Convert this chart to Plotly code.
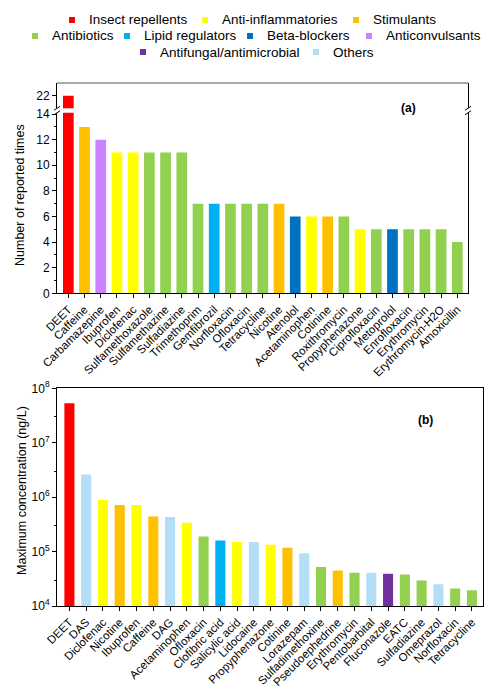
import plotly.graph_objects as go

# panel (a): number of reported times
drugs_a = ['DEET', 'Caffeine', 'Carbamazepine', 'Ibuprofen', 'Diclofenac',
           'Sulfamethoxazole', 'Sulfamethazine', 'Sulfadiazine', 'Trimethoprim',
           'Gemfibrozil', 'Norfloxacin', 'Ofloxacin', 'Tetracycline', 'Nicotine',
           'Atenolol', 'Acetaminophen', 'Cotinine', 'Roxithromycin',
           'Propyphenazone', 'Ciprofloxacin', 'Metoprolol', 'Enrofloxacin',
           'Erythromycin', 'Erythromycin-H2O', 'Amoxicillin']
counts_a = [22, 13, 12, 11, 11, 11, 11, 11, 7, 7, 7, 7, 7, 7,
            6, 6, 6, 6, 5, 5, 5, 5, 5, 5, 4]
classes_a = ['Insect repellents', 'Stimulants', 'Anticonvulsants',
             'Anti-inflammatories', 'Anti-inflammatories', 'Antibiotics',
             'Antibiotics', 'Antibiotics', 'Antibiotics', 'Lipid regulators',
             'Antibiotics', 'Antibiotics', 'Antibiotics', 'Stimulants',
             'Beta-blockers', 'Anti-inflammatories', 'Stimulants', 'Antibiotics',
             'Anti-inflammatories', 'Antibiotics', 'Beta-blockers', 'Antibiotics',
             'Antibiotics', 'Antibiotics', 'Antibiotics']
ticks_a = [0, 2, 4, 6, 8, 10, 12, 14]

# panel (b): maximum concentration (ng/L)
drugs_b = ['DEET', 'DAS', 'Diclofenac', 'Nicotine', 'Ibuprofen', 'Caffeine',
           'DAG', 'Acetaminophen', 'Ofloxacin', 'Clofibric acid',
           'Salicylic acid', 'Lidocaine', 'Propyphenazone', 'Cotinine',
           'Lorazepam', 'Sulfadimethoxine', 'Pseudoephedrine', 'Erythromycin',
           'Pentobarbital', 'Fluconazole', 'EATC', 'Sulfadiazine', 'Omeprazol',
           'Norfloxacin', 'Tetracycline']
conc_b = [5.3e7, 2.6e6, 9.0e5, 7.2e5, 7.2e5, 4.4e5, 4.3e5, 3.4e5, 1.9e5,
          1.6e5, 1.5e5, 1.5e5, 1.33e5, 1.17e5, 9.3e4, 5.2e4, 4.5e4, 4.1e4,
          4.1e4, 3.9e4, 3.8e4, 2.95e4, 2.5e4, 2.1e4, 1.95e4]
classes_b = ['Insect repellents', 'Others', 'Anti-inflammatories', 'Stimulants',
             'Anti-inflammatories', 'Stimulants', 'Others', 'Anti-inflammatories',
             'Antibiotics', 'Lipid regulators', 'Anti-inflammatories', 'Others',
             'Anti-inflammatories', 'Stimulants', 'Others', 'Antibiotics',
             'Stimulants', 'Antibiotics', 'Others', 'Antifungal/antimicrobial',
             'Antibiotics', 'Antibiotics', 'Others', 'Antibiotics', 'Antibiotics']
ticks_b = [1e4, 1e5, 1e6, 1e7, 1e8]
ticklabels_b = ['10<sup>4</sup>', '10<sup>5</sup>', '10<sup>6</sup>',
                '10<sup>7</sup>', '10<sup>8</sup>']

legend_rows = [
    ['Insect repellents', 'Anti-inflammatories', 'Stimulants'],
    ['Antibiotics', 'Lipid regulators', 'Beta-blockers', 'Anticonvulsants'],
    ['Antifungal/antimicrobial', 'Others'],
]

colors = {
    'Insect repellents': '#FF0000',
    'Anti-inflammatories': '#FFFF00',
    'Stimulants': '#FFC000',
    'Antibiotics': '#92D050',
    'Lipid regulators': '#00B0F0',
    'Beta-blockers': '#0070C0',
    'Anticonvulsants': '#C983FF',
    'Antifungal/antimicrobial': '#7030A0',
    'Others': '#B4DEF7',
}

FONT = 'Liberation Sans, Arial, sans-serif'
W, H = 501, 690
L, R, T, B = 57, 18, 83, 84


def px(x):
    return (x - L) / (W - L - R)


def py(y):
    return (H - B - y) / (H - T - B)


def label(text, x, y, size, angle=0, xanchor='center'):
    fig.add_annotation(text=text, xref='paper', yref='paper', x=x, y=y,
                       xanchor=xanchor, yanchor='middle', textangle=angle,
                       showarrow=False,
                       font=dict(family=FONT, size=size, color='black'))


fig = go.Figure()

bar_a = [colors[c] for c in classes_a]
# lower part of the broken axis
fig.add_trace(go.Bar(x=drugs_a, y=counts_a, marker_color=bar_a, width=0.66,
                     marker_line_width=0, showlegend=False, xaxis='x', yaxis='y'))
# upper part (only DEET reaches it)
fig.add_trace(go.Bar(x=drugs_a, y=counts_a, marker_color=bar_a, width=0.66,
                     marker_line_width=0, showlegend=False, xaxis='x', yaxis='y3'))

fig.add_trace(go.Bar(x=drugs_b, y=conc_b, marker_color=[colors[c] for c in classes_b],
                     width=0.6, marker_line_width=0, showlegend=False,
                     xaxis='x2', yaxis='y2'))

ax_common = dict(showgrid=False, zeroline=False, showline=True, linecolor='black',
                 linewidth=1, ticks='outside', ticklen=4, tickcolor='black',
                 automargin=False)
xtickfont = dict(family=FONT, size=11.5, color='black')
ytickfont = dict(family=FONT, size=12, color='black')

fig.update_layout(
    width=W, height=H,
    margin=dict(l=L, r=R, t=T, b=B),
    paper_bgcolor='white', plot_bgcolor='white',
    font=dict(family=FONT, color='black'),
    showlegend=False,
    xaxis=dict(**ax_common, type='category', domain=[0, px(468)], anchor='y',
               tickangle=-45, range=[-0.7, 24.66], tickfont=xtickfont),
    yaxis=dict(**ax_common, domain=[py(293.3), py(112.8)], anchor='x',
               range=[0, 14.1], tickvals=ticks_a, mirror=True, tickfont=ytickfont,
               minor=dict(dtick=1, ticklen=2, ticks='outside', tickcolor='black')),
    yaxis3=dict(**ax_common, domain=[py(108.3), 1.0], anchor='x', range=[21, 23],
                tickvals=[22], mirror=True, tickfont=ytickfont),
    xaxis2=dict(**ax_common, type='category', domain=[0, 1], anchor='y2',
                tickangle=-45, range=[-0.74, 24.66], mirror=True,
                tickfont=xtickfont),
    yaxis2=dict(**ax_common, domain=[0, py(388.3)], anchor='x2', type='log',
                range=[4, 8], tickvals=ticks_b, ticktext=ticklabels_b,
                mirror=True, tickfont=ytickfont,
                minor=dict(tickvals=[3e4, 3e5, 3e6, 3e7], ticklen=2,
                           ticks='outside', tickcolor='black')),
)

# legend drawn by hand so the three centred rows match the original
legend_marker_x = [[72, 205, 356], [35, 127, 250, 369], [143, 316]]
legend_row_y = [20, 36, 52]
for row, xs, yr in zip(legend_rows, legend_marker_x, legend_row_y):
    for name, xm in zip(row, xs):
        fig.add_shape(type='rect', xref='paper', yref='paper',
                      xsizemode='pixel', ysizemode='pixel',
                      xanchor=px(xm), yanchor=py(yr), x0=-3, x1=3, y0=-3, y1=3,
                      fillcolor=colors[name], line=dict(width=0))
        label(name, px(xm + 15), py(yr), 13.5, xanchor='left')

# top border of panel (a) and axis-break marks
fig.add_shape(type='line', xref='paper', yref='paper', x0=0, x1=px(468), y0=1, y1=1,
              line=dict(color='#555555', width=1))
for xb in [0, px(468)]:
    for yb in [112.8, 108.3]:
        fig.add_shape(type='line', xref='paper', yref='paper',
                      xsizemode='pixel', ysizemode='pixel',
                      xanchor=xb, yanchor=py(yb), x0=-3, x1=3, y0=-2, y1=2,
                      line=dict(color='black', width=1))

label('Number of reported times', px(20), py(195), 12.5, angle=-90)
label('Maximum concentration (ng/L)', px(22), py(491), 12.5, angle=-90)
label('<b>(a)</b>', px(408), py(108), 12)
label('<b>(b)</b>', px(425), py(420), 12)

# the page's default body margin would shift the whole figure by 8px
fig.write_html('out.html', config={'displayModeBar': False},
               post_script="document.body.style.margin='0';")
